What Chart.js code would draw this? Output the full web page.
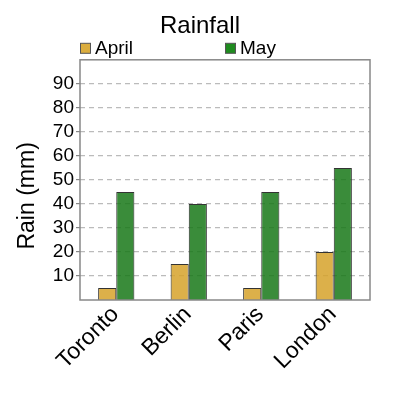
<!DOCTYPE html>
<html>
<head>
<meta charset="utf-8">
<script src="https://cdn.jsdelivr.net/npm/chart.js@4"></script>
<style>
  html, body { margin: 0; padding: 0; background: #fff; }
</style>
</head>
<body>
<canvas id="myChart" width="400" height="400"></canvas>
<script>
  var cities = ["Toronto", "Berlin", "Paris", "London"];
  var aprilRain = [5, 15, 5, 20];
  var mayRain = [45, 40, 45, 55];
  var yTicks = [10, 20, 30, 40, 50, 60, 70, 80, 90];

  var fontName = "'Liberation Sans', Arial, sans-serif";

  // legend in two columns over the plot, box + label
  var legendCols = {
    id: 'legendCols',
    afterDraw: chart => {
      var ctx = chart.ctx;
      var area = chart.chartArea;
      var colW = (area.right - area.left) / 2;
      ctx.save();
      ctx.font = "19px " + fontName;
      ctx.textBaseline = "middle";
      chart.data.datasets.forEach((ds, i) => {
        var x = area.left + i * colW;
        var y = area.top - 11;
        ctx.fillStyle = ds.legendColor;
        ctx.strokeStyle = "#555";
        ctx.lineWidth = 1;
        ctx.fillRect(x + 0.5, y - 5.5, 10, 10);
        ctx.strokeRect(x + 0.5, y - 5.5, 10, 10);
        ctx.fillStyle = "#000";
        ctx.fillText(ds.label, x + 15, y);
      });
      ctx.restore();
    }
  };

  // grey frame round the plot
  var frame = {
    id: 'frame',
    afterDatasetsDraw: chart => {
      var ctx = chart.ctx;
      var a = chart.chartArea;
      ctx.save();
      ctx.strokeStyle = "#888";
      ctx.lineWidth = 1.5;
      ctx.strokeRect(a.left, a.top, a.right - a.left, a.bottom - a.top);
      ctx.restore();
    }
  };

  new Chart("myChart", {
    type: "bar",
    data: {
      labels: cities,
      datasets: [{
        label: "April",
        data: aprilRain,
        backgroundColor: "rgba(214, 162, 42, 0.85)",
        legendColor: "#dbad3e",
        borderColor: "#333",
        borderWidth: 1,
        categoryPercentage: 0.5,
        barPercentage: 1.0
      }, {
        label: "May",
        data: mayRain,
        backgroundColor: "rgba(24, 120, 24, 0.85)",
        legendColor: "#1f8b1f",
        borderColor: "#333",
        borderWidth: 1,
        categoryPercentage: 0.5,
        barPercentage: 1.0
      }]
    },
    options: {
      responsive: false,
      animation: false,
      layout: { padding: 0 },
      plugins: {
        legend: { display: false },
        tooltip: { enabled: false },
        title: {
          display: true,
          text: "Rainfall",
          color: "#000",
          font: { family: fontName, size: 24, weight: "normal" },
          padding: { top: 12, bottom: 19 }
        }
      },
      scales: {
        x: {
          grid: { display: false },
          border: { display: false },
          ticks: {
            color: "#000",
            font: { family: fontName, size: 23 },
            minRotation: 45,
            maxRotation: 45,
            padding: -7,
            labelOffset: -1
          },
          afterFit: s => { s.height = 100; }
        },
        y: {
          min: 0,
          max: 100,
          border: { display: false, dash: [5, 4] },
          afterBuildTicks: s => { s.ticks = yTicks.map(v => ({ value: v })); },
          grid: {
            color: "#bbb",
            lineWidth: 1.2,
            tickBorderDash: [],
            tickColor: "#888",
            tickLength: 4
          },
          ticks: {
            color: "#000",
            font: { family: fontName, size: 19 },
            padding: 2
          },
          title: {
            display: true,
            // trailing spaces push the words a bit below the middle, as in the original
            text: "Rain (mm)     ",
            color: "#000",
            font: { family: fontName, size: 23 },
            padding: { top: 14, bottom: 0 }
          },
          afterFit: s => { s.width = 80; }
        },
        // empty axis on the right, only keeps the margin
        yRight: {
          position: "right",
          grid: { display: false },
          border: { display: false },
          ticks: { display: false },
          afterFit: s => { s.width = 30; }
        }
      }
    },
    plugins: [legendCols, frame]
  });
</script>
</body>
</html>
